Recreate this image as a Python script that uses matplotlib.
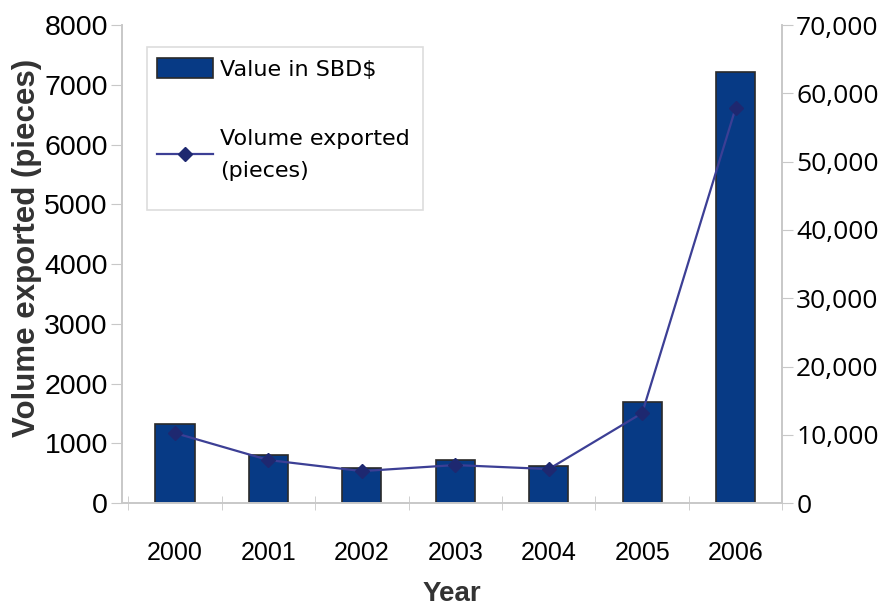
import matplotlib.pyplot as plt
from matplotlib.patches import Rectangle
import numpy as np

# valeurs
annees = ["2000", "2001", "2002", "2003", "2004", "2005", "2006"]
valeur_sbd = [11570, 7030, 5130, 6300, 5420, 14790, 63100]
volume_pieces = [1172, 720, 535, 636, 569, 1506, 6611]

gris = "#c8c8c8"

fig = plt.figure(figsize=(8.82, 6.12), dpi=100)
ax = fig.add_axes([0.138, 0.178, 0.749, 0.781])
ax2 = ax.twinx()

x = np.arange(len(annees))

# barres sur l'axe de droite
barres = ax2.bar(x, valeur_sbd, width=0.42, color="#073a85", edgecolor="#2a2a2a",
                 linewidth=1.2, label="Value in SBD$", zorder=2)
ax2.set_ylim(0, 70000)
ax2.set_yticks(range(0, 70001, 10000))
ax2.set_yticklabels([f"{v:,}" for v in range(0, 70001, 10000)],
                    fontsize=19, family="Open Sans")

# ligne sur l'axe de gauche (au-dessus des barres)
ax.set_zorder(ax2.get_zorder() + 1)
ax.patch.set_visible(False)
ligne, = ax.plot(x, volume_pieces, color="#3c3f95", linewidth=1.6, marker="D",
                 markersize=7.5, markerfacecolor="#1e2870", markeredgecolor="#1e2870",
                 label="Volume exported\n(pieces)")
ax.set_ylim(0, 8000)
ax.set_yticks(range(0, 8001, 1000))
ax.set_yticklabels([str(v) for v in range(0, 8001, 1000)],
                   fontsize=20.5, family="Liberation Sans")
ax.set_xlim(-0.57, len(annees) - 0.5)
ax.set_xticks(x)
ax.set_xticklabels(annees, fontsize=18, family="Liberation Sans")
ax.set_xticks(np.arange(-0.5, len(annees)), minor=True)
ax.tick_params(axis="x", which="major", length=0, pad=27)
ax.tick_params(axis="x", which="minor", length=10, color=gris, direction="inout")
ax.tick_params(axis="y", length=8, color=gris, pad=2)
ax2.tick_params(axis="y", length=8, color=gris, pad=2)

for a in (ax, ax2):
    a.spines["top"].set_visible(False)
    for s in ("left", "right", "bottom"):
        a.spines[s].set_color(gris)
        a.spines[s].set_linewidth(1.2)

ax.set_ylabel("Volume exported (pieces)", fontsize=22.5, fontweight="bold",
              family="Liberation Sans", color="#333333", labelpad=5)
ax.yaxis.set_label_coords(-0.121, 0.533)
ax.set_xlabel("Year", fontsize=20, fontweight="bold", family="Liberation Sans",
              color="#333333", labelpad=12)

# cadre de la légende (plus haut que son contenu, comme sur l'original)
cadre = Rectangle((147 / 882, 1 - 210 / 612), 276 / 882, 163 / 612,
                  transform=fig.transFigure, facecolor="white",
                  edgecolor="#dddddd", linewidth=1.2, zorder=0.5)
fig.patches.append(cadre)

leg = ax.legend([barres, ligne], ["Value in SBD$", "Volume exported\n(pieces)"],
                loc="upper left", bbox_to_anchor=(153 / 882, 1 - 54 / 612),
                bbox_transform=fig.transFigure,
                prop={"family": "DejaVu Sans", "size": 16}, frameon=False,
                handlelength=2.5, handleheight=1.0, labelspacing=2.2,
                borderpad=0.2, handletextpad=0.3, borderaxespad=0)
for t in leg.get_texts():
    t.set_linespacing(1.75)

fig.savefig("out.png", dpi=100)
